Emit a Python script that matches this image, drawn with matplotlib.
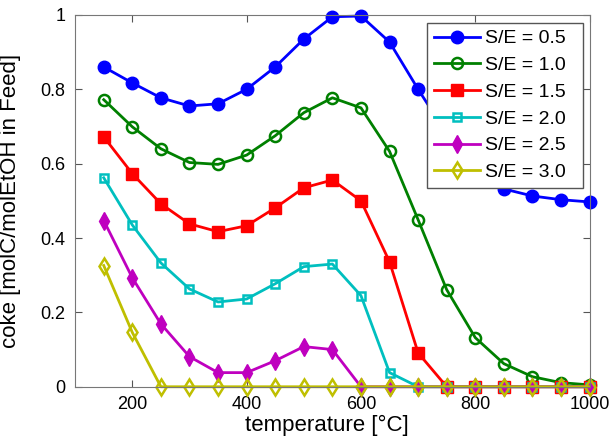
import numpy as np
import matplotlib
matplotlib.use("Agg")
import matplotlib.pyplot as plt

# temperature grid [°C]
temps = np.arange(150, 1001, 50)

# coke yield [molC/molEtOH in Feed] per steam/ethanol ratio
se_05 = [0.86, 0.817, 0.777, 0.755, 0.761, 0.80, 0.86, 0.935, 0.995, 0.997,
         0.927, 0.80, 0.68, 0.58, 0.532, 0.513, 0.503, 0.497]
se_10 = [0.772, 0.699, 0.64, 0.603, 0.598, 0.623, 0.675, 0.737, 0.777, 0.75,
         0.633, 0.449, 0.261, 0.132, 0.062, 0.027, 0.011, 0.005]
se_15 = [0.672, 0.573, 0.492, 0.438, 0.417, 0.433, 0.481, 0.535, 0.556, 0.50,
         0.336, 0.091, 0, 0, 0, 0, 0, 0]
se_20 = [0.562, 0.435, 0.333, 0.263, 0.228, 0.236, 0.277, 0.323, 0.33, 0.245,
         0.038, 0, 0, 0, 0, 0, 0, 0]
se_25 = [0.447, 0.293, 0.169, 0.081, 0.038, 0.038, 0.07, 0.108, 0.10, 0,
         0, 0, 0, 0, 0, 0, 0, 0]
se_30 = [0.326, 0.146, 0, 0, 0, 0, 0, 0, 0, 0,
         0, 0, 0, 0, 0, 0, 0, 0]

labels = ["S/E = 0.5", "S/E = 1.0", "S/E = 1.5", "S/E = 2.0", "S/E = 2.5", "S/E = 3.0"]

plt.rcParams["font.family"] = ["Liberation Sans", "DejaVu Sans"]

fig, ax = plt.subplots(figsize=(6.11, 4.38), dpi=100)
fig.subplots_adjust(left=0.123, right=0.965, top=0.966, bottom=0.117)

# colour, marker, filled?, marker size
styles = [
    ((0, 0, 1), "o", True, 9),
    ((0, 0.5, 0), "o", False, 8),
    ((1, 0, 0), "s", True, 8),
    ((0, 0.75, 0.75), "s", False, 6),
    ((0.75, 0, 0.75), "d", True, 9),
    ((0.75, 0.75, 0), "d", False, 8),
]

series = [se_05, se_10, se_15, se_20, se_25, se_30]
for vals, lab, (col, mk, filled, ms) in zip(series, labels, styles):
    ax.plot(temps, vals, color=col, lw=2, marker=mk, ms=ms,
            mfc=col if filled else "none", mec=col, mew=1.8 if not filled else 1,
            label=lab + "  ", clip_on=False)

ax.set_xlim(100, 1000)
ax.set_ylim(0, 1)
ax.set_xticks([200, 400, 600, 800, 1000])
ax.set_yticks([0, 0.2, 0.4, 0.6, 0.8, 1])
ax.set_yticklabels(["0", "0.2", "0.4", "0.6", "0.8", "1"])
ax.tick_params(direction="in", top=True, right=True, labelsize=13, length=5,
               color="#555555", pad=7)
for s in ax.spines.values():
    s.set_color("#777777")

ax.set_xlabel("temperature [°C]", fontsize=16)
ax.xaxis.set_label_coords(0.49, -0.133, transform=ax.transAxes)
ax.xaxis.label.set_va("bottom")
ax.set_ylabel("coke [molC/molEtOH in Feed]", fontsize=16)
ax.yaxis.set_label_coords(-0.105, 0.5)

leg = ax.legend(loc="upper right", bbox_to_anchor=(0.988, 0.978), borderaxespad=0,
                fontsize=14, fancybox=False, framealpha=1, edgecolor="#555555",
                handlelength=2.4, handletextpad=0.25, borderpad=0.35,
                labelspacing=0.47)
leg.get_frame().set_linewidth(1)

fig.savefig("out.png", dpi=100)
